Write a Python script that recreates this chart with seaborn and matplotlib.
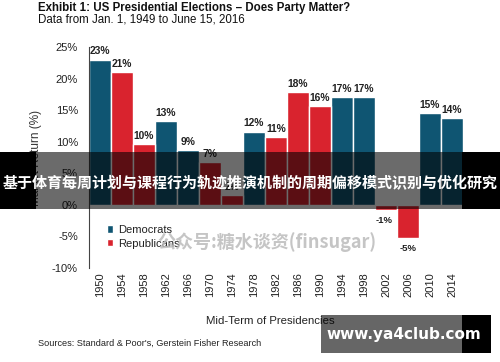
import matplotlib
matplotlib.use("Agg")
import matplotlib.pyplot as plt
from matplotlib.patches import Rectangle
import pandas as pd
import seaborn as sns

# ----------------------------
# DATA
# ----------------------------
years = [1950, 1954, 1958, 1962, 1966, 1970, 1974, 1978, 1982,
         1986, 1990, 1994, 1998, 2002, 2006, 2010, 2014]
returns = [23, 21, 9.6, 13.3, 8.7, 6.8, 1.5, 11.6, 10.7,
           17.9, 15.7, 17.1, 17.1, -0.8, -5.2, 14.6, 13.8]
bar_labels = ["23%", "21%", "10%", "13%", "9%", "7%", "2%", "12%", "11%",
              "18%", "16%", "17%", "17%", "-1%", "-5%", "15%", "14%"]
parties = ["Democrats", "Republicans", "Republicans", "Democrats", "Democrats",
           "Republicans", "Republicans", "Democrats", "Republicans",
           "Republicans", "Republicans", "Democrats", "Democrats",
           "Republicans", "Republicans", "Democrats", "Democrats"]
yticks = [-10, -5, 0, 5, 10, 15, 20, 25]

COLORS = {"Democrats": "#0f5572", "Republicans": "#d9232e"}

sns.set_style("white")
plt.rcParams["font.family"] = ["Liberation Sans", "Noto Sans CJK SC", "DejaVu Sans"]

W, H = 500, 362
def fx(x):
    return x / W
def fy(y):
    return 1 - y / H

df = pd.DataFrame({"year": [str(y) for y in years], "ret": returns, "party": parties})

fig = plt.figure(figsize=(5, 3.62), dpi=100)
ax = fig.add_axes([fx(89), fy(268), fx(463) - fx(89), fy(47) - fy(268)])

sns.barplot(data=df, x="year", y="ret", hue="party", dodge=False,
            order=[str(y) for y in years], hue_order=["Democrats", "Republicans"],
            palette=COLORS, saturation=1, width=1.0,
            edgecolor="white", linewidth=1.0, ax=ax)

# value labels
for i, (v, lab) in enumerate(zip(returns, bar_labels)):
    if v >= 0:
        ax.text(i, v + 0.5, lab, ha="center", va="bottom", fontsize=7.4, fontweight="bold", color="#222222")
    else:
        ax.text(i - (0.1 if v > -2 else 0), v - 1.0, lab,
                ha="center", va="top", fontsize=6.8, fontweight="bold", color="#222222")

ax.set_xlim(-0.5, len(years) - 0.5)
ax.set_ylim(-10, 25)
ax.set_yticks(yticks)
ax.set_yticklabels([f"{t}%" for t in yticks], fontsize=8, color="#222222")
ax.tick_params(axis="y", length=3, width=0.6, color="#555555", pad=5)
ax.tick_params(axis="x", length=0, pad=3, labelrotation=90, labelsize=8, labelcolor="#222222")

for s in ["top", "right", "bottom"]:
    ax.spines[s].set_visible(False)
ax.spines["left"].set_color("#444444")
ax.spines["left"].set_linewidth(0.8)

ax.set_ylabel("Market Return (%)", fontsize=8.5, color="#333333")
ax.yaxis.set_label_coords(-0.125, 0.5)
ax.set_xlabel("Mid-Term of Presidencies", fontsize=8.2, color="#222222")
ax.xaxis.set_label_coords(0.485, -0.215)

leg = ax.legend(loc="upper left", bbox_to_anchor=(0.035, 0.215), frameon=False,
                fontsize=8, handlelength=0.6, handleheight=0.6, handletextpad=0.4,
                labelspacing=0.35, borderaxespad=0)
for t in leg.get_texts():
    t.set_color("#222222")

# titles and source
fig.text(fx(38), fy(8), "Exhibit 1: US Presidential Elections \u2013 Does Party Matter?",
         fontsize=8.3, fontweight="bold", va="center", ha="left", color="#111111")
fig.text(fx(38), fy(19.5), "Data from Jan. 1, 1949 to June 15, 2016",
         fontsize=8.3, va="center", ha="left", color="#111111")
fig.text(fx(38), fy(343), "Sources: Standard & Poor's, Gerstein Fisher Research",
         fontsize=6.6, va="center", ha="left", color="#222222")

# watermark
fig.text(fx(157), fy(242), "公众号:糖水谈资(finsugar)", fontsize=13, fontweight="bold",
         color="#bbbbbb", alpha=0.85, va="center", ha="left",
         family=["Noto Sans CJK SC", "DejaVu Sans"], zorder=4)

# banner over the middle
fig.patches.append(Rectangle((0, fy(209)), fx(36), fy(152) - fy(209), transform=fig.transFigure,
                             facecolor="black", edgecolor="none", zorder=5))
fig.patches.append(Rectangle((fx(36), fy(209)), fx(462) - fx(36), fy(152) - fy(209),
                             transform=fig.transFigure, facecolor="black", alpha=0.58,
                             edgecolor="none", zorder=5))
fig.patches.append(Rectangle((fx(462), fy(209)), 1 - fx(462), fy(152) - fy(209),
                             transform=fig.transFigure, facecolor="black", edgecolor="none", zorder=5))
fig.text(0.5, fy(183), "基于体育每周计划与课程行为轨迹推演机制的周期偏移模式识别与优化研究",
         fontsize=10.8, fontweight="bold", color="white", ha="center", va="center",
         family=["Noto Sans CJK SC", "DejaVu Sans"], zorder=6)

# site badge bottom right
fig.patches.append(Rectangle((fx(321), fy(353)), fx(462) - fx(321), fy(315) - fy(353),
                             transform=fig.transFigure, facecolor="black", alpha=0.6,
                             edgecolor="none", zorder=5))
fig.patches.append(Rectangle((fx(462), fy(353)), fx(491) - fx(462), fy(315) - fy(353),
                             transform=fig.transFigure, facecolor="black", edgecolor="none", zorder=5))
fig.text(fx(404), fy(334), "www.ya4club.com", fontsize=11, fontweight="bold", color="white",
         ha="center", va="center", family=["DejaVu Sans"], zorder=6)

fig.savefig("out.png", dpi=100)
